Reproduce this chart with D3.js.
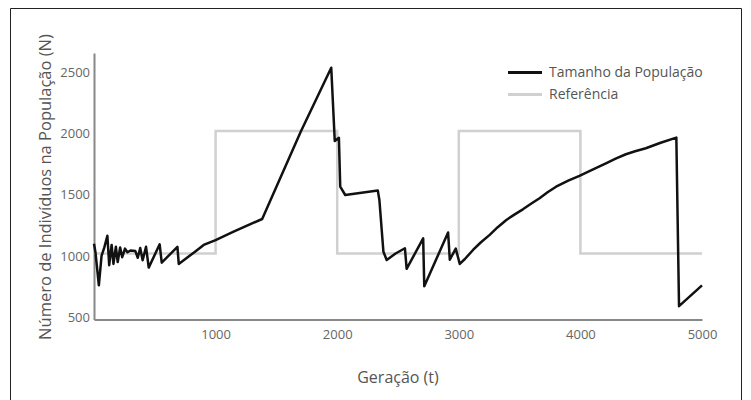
<!DOCTYPE html>
<html>
<head>
<meta charset="utf-8">
<script src="https://cdn.jsdelivr.net/npm/d3@7"></script>
<style>
  body { margin: 0; background: #fff; }
  text { font-family: "Open Sans", sans-serif; }
</style>
</head>
<body>
<svg id="chart"></svg>
<script>
// --------------------
// Data
// --------------------
const popT = [0, 12, 40, 62, 85, 110, 125, 145, 160, 180, 195, 215, 232, 255, 275, 300, 340, 360, 380, 400,
  428, 450, 540, 557, 686, 697, 820, 902, 1000, 1148, 1383, 1700, 1951, 1980, 2014, 2025, 2066, 2334, 2347,
  2380, 2407, 2480, 2557, 2571, 2707, 2716, 2912, 2926, 2975, 3008, 3050, 3117, 3180, 3254, 3320, 3391,
  3460, 3527, 3600, 3664, 3730, 3800, 3900, 3992, 4100, 4210, 4290, 4374, 4450, 4538, 4660, 4789, 4811, 5000];
const popN = [1100, 1030, 760, 1000, 1070, 1165, 925, 1090, 935, 1075, 950, 1070, 990, 1060, 1030, 1045, 1040, 985, 1065, 965,
  1075, 905, 1095, 945, 1075, 935, 1027, 1090, 1130, 1199, 1302, 2015, 2538, 1940, 1966, 1566, 1498, 1534, 1457,
  1035, 967, 1020, 1063, 895, 1144, 752, 1192, 970, 1060, 935, 975, 1049, 1110, 1172, 1235, 1294,
  1340, 1381, 1430, 1471, 1520, 1566, 1615, 1654, 1705, 1757, 1795, 1831, 1855, 1880, 1925, 1967, 590, 760];

const refT = [0, 1000, 2000, 3000, 4000, 5000];
const refN = [1020, 2020, 1020, 2020, 1020, 1020];

const xTicks = [1000, 2000, 3000, 4000, 5000];
const yTicks = [500, 1000, 1500, 2000, 2500];

const seriesNames = ["Tamanho da População", "Referência"];
const seriesColors = ["#111", "#d0d0d0"];

// --------------------
// Setup
// --------------------
const width = 751;
const height = 400;

const svg = d3.select("#chart")
  .attr("width", width)
  .attr("height", height);

// frame
svg.append("path")
  .attr("d", "M10.5,400 V8.5 H741.5 V400")
  .attr("fill", "none")
  .attr("stroke", "#222")
  .attr("stroke-width", 1);

const x = d3.scaleLinear().domain([0, 5000]).range([94, 702]);
const y = d3.scaleLinear().domain([481, 2658]).range([319.5, 53]);

// --------------------
// Axes
// --------------------
const xAxis = svg.append("g")
  .attr("transform", `translate(0,${y.range()[0]})`)
  .call(d3.axisBottom(x).tickValues(xTicks).tickFormat(d3.format("d")).tickSize(0).tickPadding(10));

const yAxis = svg.append("g")
  .attr("transform", `translate(${x.range()[0]},0)`)
  .call(d3.axisLeft(y).tickValues(yTicks).tickFormat(d3.format("d")).tickSize(0).tickPadding(4));

[xAxis, yAxis].forEach(g => {
  g.select(".domain").attr("stroke", "#888").attr("stroke-width", 2);
  g.selectAll("text")
    .attr("fill", "#666")
    .style("font-size", "13px")
    .style("font-family", "Open Sans, sans-serif");
});

svg.append("text")
  .attr("x", 398)
  .attr("y", 383)
  .attr("text-anchor", "middle")
  .attr("fill", "#555")
  .style("font-size", "16px")
  .text("Geração (t)");

svg.append("text")
  .attr("transform", "translate(51,187) rotate(-90)")
  .attr("text-anchor", "middle")
  .attr("fill", "#555")
  .style("font-size", "16.5px")
  .text("Número de Indivíduos na População (N)");

// --------------------
// Lines
// --------------------
const refLine = d3.line()
  .x((d, i) => x(refT[i]))
  .y(d => y(d))
  .curve(d3.curveStepAfter);

svg.append("path")
  .datum(refN)
  .attr("fill", "none")
  .attr("stroke", seriesColors[1])
  .attr("stroke-width", 2.5)
  .attr("d", refLine);

const popLine = d3.line()
  .x((d, i) => x(popT[i]))
  .y(d => y(d));

svg.append("path")
  .datum(popN)
  .attr("fill", "none")
  .attr("stroke", seriesColors[0])
  .attr("stroke-width", 2.5)
  .attr("stroke-linejoin", "round")
  .attr("d", popLine);

// --------------------
// Legend
// --------------------
const legend = svg.append("g");
seriesNames.forEach((name, i) => {
  const ly = 72.5 + i * 22;
  legend.append("line")
    .attr("x1", 508).attr("x2", 542)
    .attr("y1", ly).attr("y2", ly)
    .attr("stroke", seriesColors[i])
    .attr("stroke-width", 3);
  legend.append("text")
    .attr("x", 549)
    .attr("y", ly)
    .attr("dy", "0.35em")
    .attr("fill", "#555")
    .style("font-size", "14px")
    .text(name);
});
</script>
</body>
</html>
